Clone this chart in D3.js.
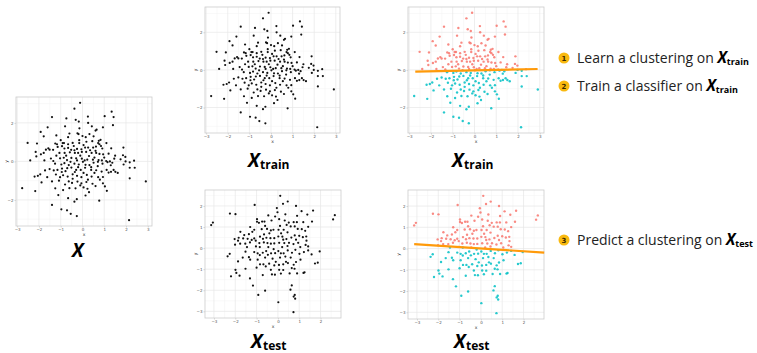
<!DOCTYPE html>
<html>
<head>
<meta charset="utf-8">
<script src="https://cdn.jsdelivr.net/npm/d3@7"></script>
<style>
  html, body { margin: 0; padding: 0; background: #fff; }
  svg { display: block; }
  .tick-label { font-family: "DejaVu Sans", sans-serif; font-size: 4px; fill: #555; }
  .axis-title { font-family: "DejaVu Sans", sans-serif; font-size: 4.5px; fill: #333; }
  .panel-title { font-family: "Open Sans", "Noto Sans", sans-serif; fill: #000; }
  .step-text { font-family: "Open Sans", "Noto Sans", sans-serif; font-size: 14px; fill: #222; }
</style>
</head>
<body>
<svg id="chart" width="757" height="353"></svg>
<script>
// Training sample (also shown as the full sample X)
const trainPoints = [
  [-0.11,3.04],[-0.37,2.74],[1.34,2.58],[1.43,2.30],[1.40,1.88],[-1.40,2.30],[-0.74,2.23],[-0.31,2.16],
  [-0.17,2.07],[0.25,2.33],[1.02,2.35],[-0.80,1.82],[-1.60,1.77],[0.26,2.00],[0.43,1.82],[0.65,1.65],
  [0.60,1.60],[0.94,1.77],[-0.14,1.72],[-0.23,1.46],[-0.18,1.42],[-1.92,1.53],[-1.78,1.30],[-1.20,1.35],
  [-0.66,1.26],[0.00,1.32],[0.15,1.26],[0.32,1.42],[0.51,1.30],[-2.52,0.96],[-2.09,0.93],[-1.25,0.93],
  [-1.17,0.89],[-0.91,0.95],[-0.66,0.89],[-0.45,0.96],[-0.15,0.95],[0.18,1.02],[0.75,1.07],[0.83,1.12],
  [0.72,0.95],[-1.57,0.68],[-1.68,0.61],[-1.78,0.44],[-1.51,0.61],[-1.35,0.60],[-1.14,0.75],[-0.94,0.79],
  [-0.83,0.67],[-0.66,0.70],[-0.52,0.60],[-0.37,0.58],[-0.25,0.65],[-0.05,0.63],[0.12,0.72],[0.26,0.72],
  [0.49,0.72],[0.62,0.77],[0.78,0.89],[0.91,0.67],[1.32,0.68],[1.88,0.72],[-2.15,0.49],[-1.91,0.37],
  [-1.06,0.44],[-0.82,0.44],[-0.58,0.47],[-0.35,0.44],[-0.20,0.44],[-0.03,0.49],[0.17,0.49],[0.42,0.44],
  [0.63,0.44],[0.78,0.39],[0.95,0.37],[1.86,0.32],[1.97,0.23],[-2.40,0.05],[-2.12,0.26],[-1.34,0.02],
  [-1.03,0.16],[-0.86,0.19],[-0.71,0.07],[-0.51,0.18],[-0.29,0.16],[-0.03,0.14],[0.22,0.09],[0.48,0.09],
  [0.74,0.07],[0.89,0.05],[1.09,0.02],[1.26,0.00],[1.46,0.14],[1.75,0.11],[1.98,0.00],[2.17,-0.05],
  [2.37,0.04],[2.40,-0.33],[-1.26,-0.12],[-0.97,-0.16],[-0.83,-0.09],[-0.63,-0.19],[-0.37,-0.12],[-0.17,-0.16],
  [0.14,-0.18],[0.32,-0.19],[0.51,-0.07],[0.71,-0.02],[0.92,-0.12],[1.15,-0.04],[1.37,-0.07],[1.89,-0.16],
  [2.17,-0.33],[-1.51,-0.40],[-1.32,-0.47],[-1.15,-0.44],[-0.94,-0.37],[-0.78,-0.51],[-0.51,-0.32],[-0.29,-0.44],
  [-0.08,-0.44],[0.12,-0.33],[0.40,-0.44],[0.63,-0.46],[0.88,-0.53],[1.11,-0.44],[1.43,-0.44],[-1.72,-0.47],
  [-1.94,-0.67],[-2.20,-0.79],[-2.05,-0.75],[-1.62,-0.82],[-1.22,-0.68],[-1.03,-0.82],[-0.89,-0.72],[-0.68,-0.79],
  [-0.45,-0.67],[-0.25,-0.75],[-0.05,-0.82],[0.20,-0.70],[0.42,-0.79],[0.72,-0.82],[0.94,-0.81],[1.20,-0.58],
  [1.31,-0.54],[1.51,-0.54],[1.62,-0.60],[2.17,-0.88],[-1.88,-1.09],[-1.40,-1.04],[-1.08,-1.00],[-0.63,-1.04],
  [-0.48,-1.12],[-0.23,-1.05],[-0.05,-1.14],[0.18,-1.07],[0.46,-1.16],[0.94,-1.14],[2.91,-1.04],[-2.77,-1.39],
  [-2.17,-1.54],[-1.25,-1.40],[-0.89,-1.49],[-0.60,-1.39],[-0.32,-1.40],[0.05,-1.35],[0.23,-1.42],[0.60,-1.28],
  [1.03,-1.30],[1.12,-1.53],[-1.11,-1.75],[-0.66,-1.91],[-0.37,-2.09],[-0.26,-1.96],[0.14,-1.77],[0.77,-2.04],
  [-1.40,-2.26],[-0.97,-2.49],[-0.71,-2.54],[-0.54,-2.72],[-0.26,-2.84],[2.14,-3.05],
  [-0.40,0.80],[0.05,0.85],[0.35,0.58],[-0.75,0.30],[-0.10,0.30],[0.30,0.28],[0.55,0.20],[-1.20,0.30],
  [-0.55,-0.02],[0.02,-0.02],[0.40,-0.30],[-0.20,-0.30],[-0.95,-0.55],[0.70,-0.25],[1.00,0.20],[-0.35,-0.55],
  [0.05,-0.60],[0.55,-0.60],[-0.70,-0.35],[-1.45,0.15],[1.20,0.40],[0.85,0.80],[-0.15,1.10],[0.45,1.05],
  [-1.00,1.10],[-0.60,1.45],[0.80,-0.95],[-0.10,-1.25],[-0.80,-1.20],[0.30,-1.60],[1.50,0.30],[-1.75,0.05],
  [0.10,0.05],[-0.25,0.05],[0.60,0.55],[-0.85,0.95],[1.10,0.95],[0.25,-0.95],[-0.45,-0.90],[1.30,-0.20]
];

// Test sample
const testPoints = [
  [0.11,2.48],[0.46,2.21],[0.24,2.10],[-0.02,1.70],[0.85,2.00],[1.11,1.75],[1.65,1.78],[1.38,1.59],
  [0.90,1.53],[-1.09,2.05],[-2.25,1.64],[-1.99,1.61],[-3.13,1.09],[-3.05,1.21],[2.67,1.56],[2.59,1.36],
  [-0.98,1.37],[-0.98,1.25],[-0.89,1.20],[-0.74,1.26],[-0.63,1.26],[-0.30,1.31],[-0.13,1.50],[0.06,1.37],
  [0.32,1.31],[0.51,1.21],[0.74,1.23],[0.89,1.23],[1.19,1.23],[1.60,1.26],[-1.20,0.77],[-1.36,0.66],
  [-1.58,0.62],[-1.76,0.77],[-1.11,0.87],[-0.76,0.90],[-0.51,0.91],[-0.33,0.84],[-0.21,0.87],[0.03,0.87],
  [0.27,0.87],[0.41,1.10],[0.60,1.03],[0.79,1.03],[0.93,0.91],[1.12,0.90],[1.28,0.82],[1.42,1.01],
  [-1.84,0.49],[-2.03,0.43],[-1.87,0.35],[-1.63,0.46],[-1.42,0.44],[-1.23,0.39],[-1.11,0.46],[-0.84,0.54],
  [-0.70,0.44],[-0.54,0.49],[-0.35,0.47],[-0.17,0.47],[0.02,0.55],[0.21,0.54],[0.40,0.43],[0.63,0.50],
  [0.79,0.60],[1.00,0.58],[1.17,0.52],[1.33,0.55],[-2.01,0.16],[-1.77,0.21],[-1.53,0.21],[-1.31,0.27],
  [-1.04,0.35],[-0.87,0.24],[-0.66,0.27],[-0.49,0.24],[-0.33,0.21],[-0.17,0.22],[0.06,0.25],[0.30,0.24],
  [0.52,0.25],[0.73,0.19],[0.95,0.25],[1.34,0.35],[-2.26,-0.27],[-2.36,-0.39],[-1.87,-0.63],[-1.52,-0.17],
  [-1.36,-0.43],[-1.30,-0.55],[-1.11,-0.19],[-0.95,-0.25],[-0.85,-0.33],[-0.71,-0.22],[-0.55,-0.14],[-0.47,-0.32],
  [-0.32,-0.25],[-0.13,-0.24],[0.02,-0.14],[0.14,-0.25],[0.27,-0.25],[0.46,-0.11],[0.66,-0.22],[0.82,-0.08],
  [1.01,-0.27],[1.22,-0.19],[1.42,0.08],[1.42,-0.11],[1.96,-0.16],[-1.99,-1.03],[-1.95,-1.18],[-2.20,-1.34],
  [-1.80,-1.31],[-1.52,-0.98],[-1.31,-1.44],[-1.00,-0.93],[-0.84,-0.77],[-0.68,-0.77],[-0.41,-0.74],[-0.17,-0.82],
  [0.05,-0.80],[0.25,-0.77],[0.47,-0.71],[0.74,-0.79],[0.85,-0.66],[1.06,-0.55],[1.25,-1.15],[1.20,-1.18],
  [1.74,-0.73],[1.87,-0.69],[1.58,-0.30],[-0.71,-1.28],[-0.28,-1.25],[-0.14,-1.26],[0.06,-1.03],[0.25,-1.04],
  [0.65,-0.95],[0.78,-0.98],[-1.17,-1.78],[-0.60,-2.02],[-0.92,-2.22],[0.02,-2.57],[0.65,-1.77],[0.59,-1.97],
  [0.74,-2.30],[0.81,-2.40],[0.79,-2.22],[0.73,-3.04],[-0.57,-0.87],[-0.33,-1.03],[0.14,-1.21],[0.38,-0.65],
  [-1.03,0.08],
  [-0.45,0.05],[-0.20,-0.05],[0.20,0.05],[0.45,0.10],[-0.60,-0.45],[-0.25,-0.50],[0.10,-0.45],[0.35,-0.40],
  [0.60,-0.45],[-0.85,0.05],[0.85,0.40],[-0.40,0.70],[0.15,0.70],[0.45,0.75],[-0.60,1.05],[0.10,1.05],
  [-1.45,0.05],[-0.95,-0.55],[1.05,0.05],[0.55,-1.20],[-0.05,1.90],[0.35,1.60],[-0.45,1.55],[-1.30,1.00],
  [1.30,0.15],[-0.10,-0.65],[0.90,-1.20],[-1.65,-0.45],[0.25,0.40],[-0.65,0.65]
];

// Tick values
const trainXTicks = [-3, -2, -1, 0, 1, 2, 3];
const trainYTicks = [-2, 0, 2];
const testXTicks = [-3, -2, -1, 0, 1, 2, 3];
const testYTicks = [-3, -2, -1, 0, 1, 2];

// Linear classifier boundaries: y = intercept + slope * x
const trainBoundary = { intercept: -0.023, slope: 0.025, from: -2.72, to: 2.90 };
const testBoundary = { intercept: 0.003, slope: -0.066, from: -3.13, to: 2.97 };

// Cluster colours
const clusterColors = ["#F8766D", "#00BFC4"];

// Step list on the right
const steps = [
  { n: "1", text: "Learn a clustering on ", sub: "train" },
  { n: "2", text: "Train a classifier on ", sub: "train" },
  { n: "3", text: "Predict a clustering on ", sub: "test" }
];

const svg = d3.select("#chart");

function expanded(values) {
  const [lo, hi] = d3.extent(values);
  const pad = (hi - lo) * 0.05;
  return [lo - pad, hi + pad];
}

function drawPanel(cfg) {
  const g = svg.append("g").attr("transform", `translate(${cfg.left},${cfg.top})`);
  const x = d3.scaleLinear().domain(expanded(cfg.points.map(d => d[0]))).range([0, cfg.w]);
  const y = d3.scaleLinear().domain(expanded(cfg.points.map(d => d[1]))).range([cfg.h, 0]);

  // minor grid halfway between the breaks
  const halfway = ticks => {
    const step = ticks[1] - ticks[0];
    const out = [ticks[0] - step / 2];
    for (let i = 0; i < ticks.length; i++) out.push(ticks[i] + step / 2);
    return out;
  };
  const inX = v => x(v) >= 0 && x(v) <= cfg.w;
  const inY = v => y(v) >= 0 && y(v) <= cfg.h;

  g.selectAll(".xminor").data(halfway(cfg.xTicks).filter(inX)).join("line")
    .attr("x1", d => x(d)).attr("x2", d => x(d)).attr("y1", 0).attr("y2", cfg.h)
    .attr("stroke", "#f2f2f2").attr("stroke-width", 0.5);
  g.selectAll(".yminor").data(halfway(cfg.yTicks).filter(inY)).join("line")
    .attr("y1", d => y(d)).attr("y2", d => y(d)).attr("x1", 0).attr("x2", cfg.w)
    .attr("stroke", "#f2f2f2").attr("stroke-width", 0.5);
  g.selectAll(".xmajor").data(cfg.xTicks.filter(inX)).join("line")
    .attr("x1", d => x(d)).attr("x2", d => x(d)).attr("y1", 0).attr("y2", cfg.h)
    .attr("stroke", "#e6e6e6").attr("stroke-width", 0.7);
  g.selectAll(".ymajor").data(cfg.yTicks.filter(inY)).join("line")
    .attr("y1", d => y(d)).attr("y2", d => y(d)).attr("x1", 0).attr("x2", cfg.w)
    .attr("stroke", "#e6e6e6").attr("stroke-width", 0.7);

  // axes
  const fmt = d3.format("d");
  const xAxis = d3.axisBottom(x).tickValues(cfg.xTicks.filter(inX)).tickFormat(fmt).tickSize(1.5).tickPadding(1);
  const yAxis = d3.axisLeft(y).tickValues(cfg.yTicks.filter(inY)).tickFormat(fmt).tickSize(1.5).tickPadding(1);
  const gx = g.append("g").attr("transform", `translate(0,${cfg.h})`).call(xAxis);
  const gy = g.append("g").call(yAxis);
  [gx, gy].forEach(a => {
    a.select(".domain").remove();
    a.selectAll(".tick line").attr("stroke", "#aaa").attr("stroke-width", 0.5);
    a.selectAll(".tick text").attr("class", "tick-label").attr("font-size", null).attr("font-family", null);
  });

  g.append("text").attr("class", "axis-title").attr("x", cfg.w / 2).attr("y", cfg.h + 10)
    .attr("text-anchor", "middle").text("x");
  g.append("text").attr("class", "axis-title")
    .attr("transform", `translate(-8,${cfg.h / 2}) rotate(-90)`)
    .attr("text-anchor", "middle").text("y");

  // panel border
  g.append("rect").attr("width", cfg.w).attr("height", cfg.h)
    .attr("fill", "none").attr("stroke", "#cccccc").attr("stroke-width", 0.8);

  const clip = "clip-" + cfg.id;
  g.append("clipPath").attr("id", clip).append("rect").attr("width", cfg.w).attr("height", cfg.h);

  const cluster = d => (d[1] >= cfg.boundary.intercept + cfg.boundary.slope * d[0] ? 0 : 1);

  g.append("g").attr("clip-path", `url(#${clip})`)
    .selectAll("circle").data(cfg.points).join("circle")
    .attr("cx", d => x(d[0])).attr("cy", d => y(d[1]))
    .attr("r", cfg.colored ? 1.2 : 1.1)
    .attr("fill", d => cfg.colored ? clusterColors[cluster(d)] : "#111")
    .attr("fill-opacity", cfg.colored ? 0.85 : 1);

  if (cfg.colored) {
    const b = cfg.boundary;
    const ends = [b.from, b.to].map(v => [v, b.intercept + b.slope * v]);
    g.append("line")
      .attr("x1", x(ends[0][0])).attr("y1", y(ends[0][1]))
      .attr("x2", x(ends[1][0])).attr("y2", y(ends[1][1]))
      .attr("stroke", "#FF9A0A").attr("stroke-width", 2.2).attr("stroke-linecap", "butt");
  }

  // title below the panel
  const t = svg.append("text").attr("class", "panel-title")
    .attr("x", cfg.titleX).attr("y", cfg.titleY);
  t.append("tspan").attr("font-size", 19).attr("font-weight", 700).attr("font-style", "italic").text("X");
  if (cfg.sub) {
    t.append("tspan").attr("font-size", 12).attr("font-weight", 700).attr("dx", 0.5).attr("dy", 1.5).text(cfg.sub);
  }
}

drawPanel({ id: "all", left: 16, top: 97, w: 136, h: 129, points: trainPoints,
  xTicks: trainXTicks, yTicks: trainYTicks, boundary: trainBoundary, colored: false,
  titleX: 72, titleY: 257, sub: null });
drawPanel({ id: "train", left: 205, top: 7, w: 135, h: 126, points: trainPoints,
  xTicks: trainXTicks, yTicks: trainYTicks, boundary: trainBoundary, colored: false,
  titleX: 248, titleY: 167, sub: "train" });
drawPanel({ id: "trainc", left: 408, top: 7, w: 136, h: 126, points: trainPoints,
  xTicks: trainXTicks, yTicks: trainYTicks, boundary: trainBoundary, colored: true,
  titleX: 452, titleY: 167, sub: "train" });
drawPanel({ id: "test", left: 205, top: 190, w: 136, h: 128, points: testPoints,
  xTicks: testXTicks, yTicks: testYTicks, boundary: testBoundary, colored: false,
  titleX: 251, titleY: 348, sub: "test" });
drawPanel({ id: "testc", left: 408, top: 190, w: 136, h: 129, points: testPoints,
  xTicks: testXTicks, yTicks: testYTicks, boundary: testBoundary, colored: true,
  titleX: 454, titleY: 348, sub: "test" });

// numbered steps
const stepPos = [{ cy: 58, base: 63 }, { cy: 86, base: 91 }, { cy: 240, base: 245 }];
steps.forEach((s, i) => {
  const p = stepPos[i];
  svg.append("circle").attr("cx", 564).attr("cy", p.cy).attr("r", 5.5).attr("fill", "#F9B90F");
  svg.append("text").attr("x", 564).attr("y", p.cy + 2.5).attr("text-anchor", "middle")
    .attr("font-family", "DejaVu Sans, sans-serif").attr("font-size", 7).attr("font-weight", 700)
    .attr("fill", "#3a2a00").text(s.n);
  const t = svg.append("text").attr("class", "step-text").attr("x", 577).attr("y", p.base);
  t.append("tspan").text(s.text);
  t.append("tspan").attr("font-weight", 700).attr("font-style", "italic").attr("font-size", 15.5).attr("fill", "#000").text("X");
  t.append("tspan").attr("font-weight", 700).attr("font-size", 9).attr("dy", 2).attr("fill", "#000").text(s.sub);
});
</script>
</body>
</html>
